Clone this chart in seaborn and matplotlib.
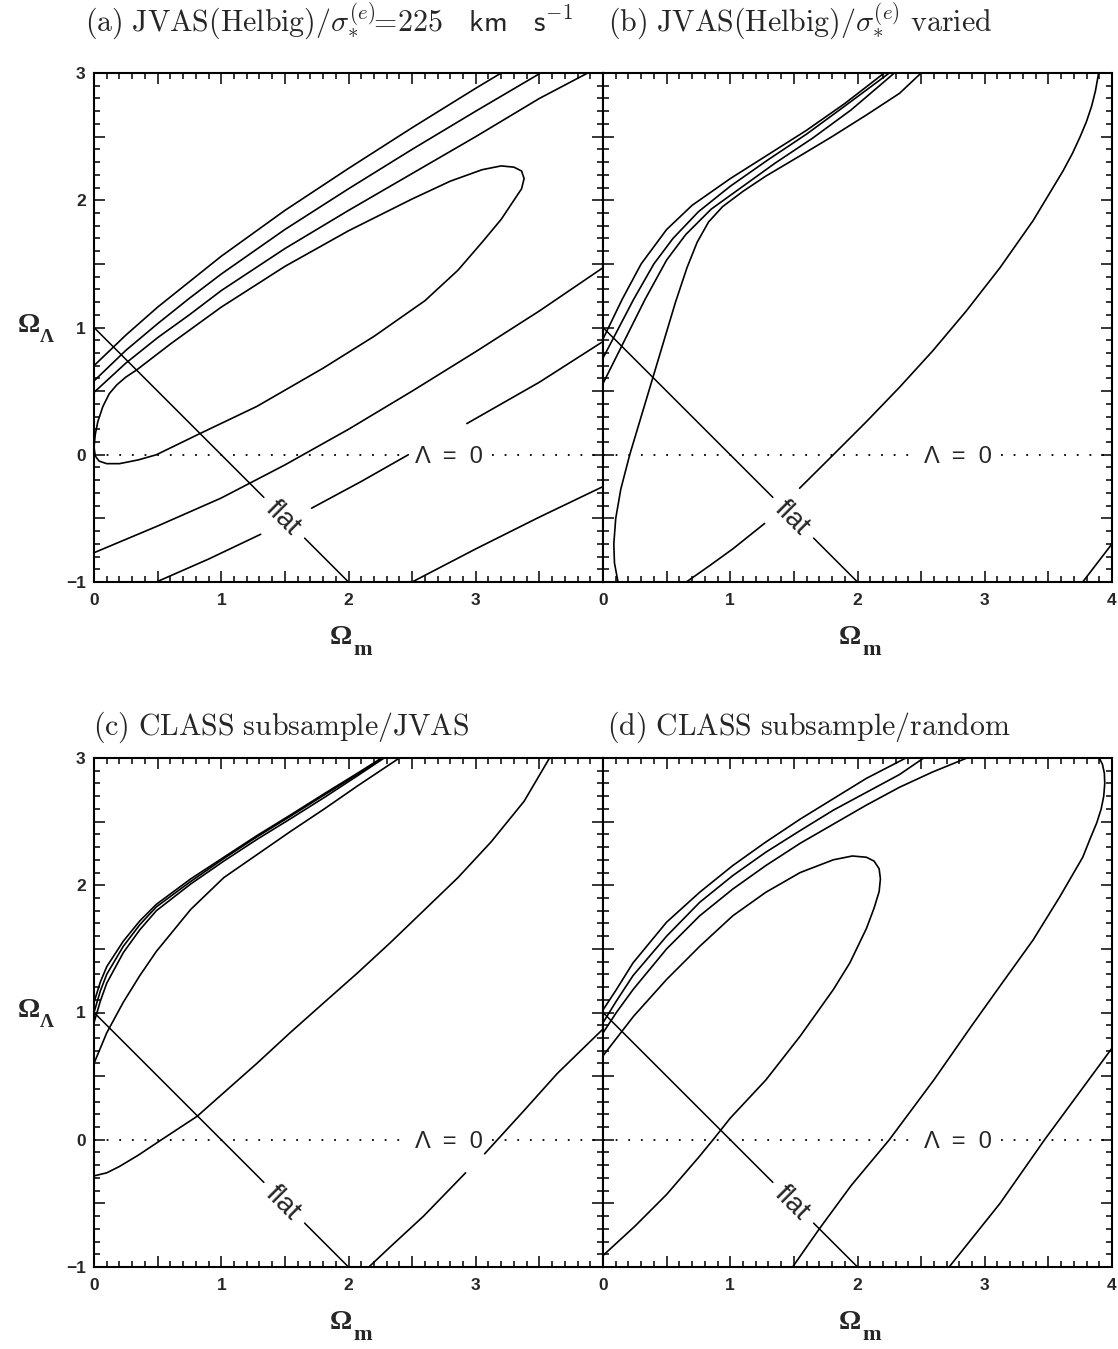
import numpy as np
import pandas as pd
import matplotlib
matplotlib.use("Agg")
import matplotlib.pyplot as plt
from matplotlib.ticker import MultipleLocator, FuncFormatter
import seaborn as sns

# ---------------- data (Omega_m, Omega_Lambda) ----------------
# panel (a)
A_C1 = [(0.00, 0.70), (0.25, 0.94), (0.50, 1.16), (0.75, 1.36), (1.00, 1.56), (1.50, 1.92),
        (2.00, 2.25), (2.50, 2.57), (3.00, 2.88), (3.20, 3.00)]
A_C2 = [(0.00, 0.58), (0.25, 0.82), (0.50, 1.03), (0.75, 1.23), (1.00, 1.42), (1.50, 1.77),
        (2.00, 2.09), (2.50, 2.40), (3.00, 2.70), (3.51, 3.00)]
A_C3 = [(0.00, 0.49), (0.25, 0.72), (0.50, 0.92), (0.75, 1.10), (1.00, 1.29), (1.50, 1.62),
        (2.00, 1.92), (2.50, 2.21), (3.00, 2.50), (3.50, 2.80), (3.88, 3.00)]
A_ELL = [(0.00, 0.06), (0.01, 0.16), (0.03, 0.26), (0.07, 0.38), (0.12, 0.48), (0.18, 0.55),
         (0.25, 0.61), (0.34, 0.67), (0.60, 0.87), (1.00, 1.16), (1.50, 1.48), (2.00, 1.76),
         (2.50, 2.01), (2.80, 2.15), (3.05, 2.24), (3.20, 2.27), (3.30, 2.26), (3.36, 2.23),
         (3.38, 2.17), (3.36, 2.09), (3.30, 2.00), (3.20, 1.85), (3.05, 1.67), (2.86, 1.45),
         (2.60, 1.21), (2.20, 0.93), (1.80, 0.68), (1.28, 0.38), (0.84, 0.17), (0.49, 0.00),
         (0.35, -0.04), (0.20, -0.07), (0.10, -0.07), (0.04, -0.05), (0.01, -0.01), (0.00, 0.06)]
A_C5 = [(0.00, -0.77), (0.50, -0.56), (1.00, -0.34), (1.50, -0.08), (2.00, 0.20), (2.50, 0.50),
        (3.00, 0.81), (3.50, 1.13), (4.00, 1.47)]
A_C6_1 = [(0.49, -1.00), (0.90, -0.82), (1.31, -0.625)]
A_C6_2 = [(1.71, -0.42), (2.10, -0.21), (2.47, 0.00)]
A_C6_3 = [(2.93, 0.245), (3.50, 0.57), (4.00, 0.89)]
A_C7 = [(2.50, -1.00), (3.00, -0.74), (3.50, -0.49), (4.00, -0.25)]

# panel (b)
B_C1 = [(0.00, 0.91), (0.15, 1.22), (0.30, 1.50), (0.50, 1.77), (0.70, 1.96), (1.00, 2.17),
        (1.30, 2.36), (1.60, 2.55), (1.90, 2.76), (2.21, 3.00)]
B_C2 = [(0.00, 0.76), (0.24, 1.22), (0.40, 1.50), (0.55, 1.70), (0.75, 1.91), (1.00, 2.11),
        (1.30, 2.32), (1.60, 2.52), (1.90, 2.74), (2.25, 3.00)]
B_C3 = [(0.00, 0.56), (0.33, 1.22), (0.50, 1.53), (0.65, 1.73), (0.85, 1.93), (1.10, 2.11),
        (1.35, 2.29), (1.65, 2.49), (1.95, 2.71), (2.29, 3.00)]
B_C4 = [(0.118, -1.00), (0.09, -0.85), (0.085, -0.70), (0.10, -0.50), (0.14, -0.27), (0.21, 0.00),
        (0.30, 0.30), (0.39, 0.60), (0.48, 0.90), (0.57, 1.20), (0.66, 1.47), (0.74, 1.67),
        (0.83, 1.83), (0.94, 1.95), (1.10, 2.07), (1.28, 2.19), (1.55, 2.35), (1.80, 2.50),
        (2.07, 2.67), (2.33, 2.84), (2.50, 3.00)]
B_C5_1 = [(3.895, 3.00), (3.87, 2.86), (3.84, 2.74), (3.80, 2.62), (3.75, 2.50), (3.69, 2.37),
          (3.615, 2.23), (3.38, 1.84), (3.12, 1.47), (2.855, 1.13), (2.59, 0.815), (2.33, 0.53),
          (2.07, 0.26), (1.81, 0.00), (1.545, -0.263)]
B_C5_2 = [(1.27, -0.54), (1.02, -0.74), (0.84, -0.87), (0.655, -1.00)]
B_C6 = [(3.77, -1.00), (4.00, -0.70)]

# panel (c)
C_C1 = [(0.00, 1.08), (0.05, 1.24), (0.10, 1.36), (0.23, 1.56), (0.36, 1.72), (0.49, 1.85),
        (0.76, 2.05), (1.02, 2.22), (1.28, 2.39), (1.54, 2.55), (1.81, 2.72), (2.07, 2.88),
        (2.26, 3.00)]
C_C2 = [(0.00, 1.00), (0.05, 1.17), (0.10, 1.30), (0.23, 1.52), (0.36, 1.69), (0.49, 1.83),
        (0.76, 2.03), (1.02, 2.21), (1.28, 2.38), (1.54, 2.54), (1.81, 2.71), (2.07, 2.87),
        (2.27, 3.00)]
C_C3 = [(0.00, 0.92), (0.05, 1.09), (0.10, 1.23), (0.23, 1.47), (0.36, 1.65), (0.49, 1.80),
        (0.76, 2.01), (1.02, 2.19), (1.28, 2.36), (1.54, 2.52), (1.81, 2.69), (2.07, 2.86),
        (2.28, 3.00)]
C_C4 = [(0.00, 0.60), (0.10, 0.84), (0.23, 1.08), (0.36, 1.29), (0.49, 1.48), (0.76, 1.81),
        (1.02, 2.06), (1.28, 2.24), (1.54, 2.42), (1.81, 2.60), (2.07, 2.78), (2.40, 3.00)]
C_C5 = [(0.00, -0.284), (0.10, -0.26), (0.20, -0.21), (0.35, -0.12), (0.53, 0.00), (0.81, 0.184),
        (1.02, 0.37), (1.28, 0.60), (1.54, 0.84), (1.81, 1.08), (2.07, 1.31), (2.33, 1.55),
        (2.59, 1.80), (2.86, 2.06), (3.12, 2.34), (3.38, 2.66), (3.58, 3.00)]
C_C6_1 = [(2.16, -1.00), (2.33, -0.84), (2.59, -0.60), (2.92, -0.26)]
C_C6_2 = [(3.07, -0.11), (3.38, 0.23), (3.64, 0.52), (4.00, 0.87)]

# panel (d)
D_C1 = [(0.00, 1.02), (0.105, 1.18), (0.236, 1.39), (0.50, 1.71), (0.76, 1.945), (1.02, 2.155),
        (1.28, 2.34), (1.55, 2.52), (1.81, 2.68), (2.07, 2.84), (2.38, 3.00)]
D_C2 = [(0.00, 0.92), (0.105, 1.09), (0.236, 1.29), (0.50, 1.60), (0.76, 1.866), (1.02, 2.076),
        (1.28, 2.26), (1.55, 2.43), (1.81, 2.59), (2.07, 2.73), (2.33, 2.87), (2.52, 3.00)]
D_C3 = [(0.00, 0.84), (0.105, 1.00), (0.236, 1.18), (0.50, 1.50), (0.76, 1.76), (1.02, 1.97),
        (1.28, 2.155), (1.55, 2.33), (1.81, 2.48), (2.07, 2.63), (2.33, 2.77), (2.59, 2.89),
        (2.86, 3.00)]
D_C4 = [(0.00, -0.91), (0.25, -0.68), (0.50, -0.43), (0.75, -0.14), (0.865, 0.00), (1.00, 0.17),
        (1.28, 0.47), (1.55, 0.815), (1.81, 1.18), (1.94, 1.39), (2.07, 1.66), (2.13, 1.82),
        (2.17, 1.95), (2.18, 2.05), (2.17, 2.13), (2.13, 2.19), (2.07, 2.22), (1.96, 2.23),
        (1.81, 2.20), (1.55, 2.10), (1.28, 1.945), (1.02, 1.76), (0.76, 1.52), (0.50, 1.26),
        (0.24, 0.97), (0.00, 0.66)]
D_C5 = [(1.49, -1.00), (1.70, -0.70), (1.95, -0.36), (2.25, 0.00), (2.60, 0.47), (2.90, 0.90),
        (3.15, 1.25), (3.38, 1.57), (3.59, 1.91), (3.77, 2.22), (3.83, 2.37), (3.88, 2.49),
        (3.915, 2.60), (3.935, 2.70), (3.943, 2.80), (3.94, 2.88), (3.925, 2.95), (3.90, 3.00)]
D_C6 = [(2.72, -1.00), (3.12, -0.50), (3.47, 0.00), (3.75, 0.38), (4.00, 0.72)]

# reference lines (flat universe, Lambda = 0) with the gaps left for their labels
FLAT_SEGS = [[(0.00, 1.00), (1.335, -0.335)], [(1.655, -0.655), (2.00, -1.00)]]
LAMBDA0_SEGS = [[(0.00, 0.00), (2.43, 0.00)], [(3.13, 0.00), (4.00, 0.00)]]

TITLES = [r'$\mathrm{(a)\ JVAS(Helbig)/}\sigma_{*}^{(e)}\!\!\mathsf{=\!225\ \ \ km\ \ \ s}^{-1}$',
          r'$\mathrm{(b)\ JVAS(Helbig)/}\sigma_{*}^{(e)}\ \mathrm{varied}$',
          r'$\mathrm{(c)\ CLASS\ subsample/JVAS}$',
          r'$\mathrm{(d)\ CLASS\ subsample/random}$']

PANEL_CURVES = [
    [A_C1, A_C2, A_C3, A_ELL, A_C5, A_C6_1, A_C6_2, A_C6_3, A_C7],
    [B_C1, B_C2, B_C3, B_C4, B_C5_1, B_C5_2, B_C6],
    [C_C1, C_C2, C_C3, C_C4, C_C5, C_C6_1, C_C6_2],
    [D_C1, D_C2, D_C3, D_C4, D_C5, D_C6],
]


def segs_to_df(segs):
    rows = []
    for sid, seg in enumerate(segs):
        for x, y in seg:
            rows.append((sid, x, y))
    return pd.DataFrame(rows, columns=["seg", "x", "y"])


sns.set_style("ticks")
plt.rcParams['font.family'] = ['Liberation Sans', 'DejaVu Sans']
plt.rcParams['axes.unicode_minus'] = True

W, H = 1118, 1349
fig = plt.figure(figsize=(W / 100, H / 100), dpi=100)
fig.patch.set_facecolor("white")


def rect(left_px, top_px, size=509):
    return [left_px / W, 1 - (top_px + size) / H, size / W, size / H]


positions = [(94, 73), (603, 73), (94, 758), (603, 758)]
title_pos = [(85, 31), (608, 31), (93, 735), (607, 735)]


def int_fmt(show_last):
    def f(v, p):
        r = round(v)
        if abs(v - r) > 1e-6:
            return ""
        if not show_last and r == 4:
            return ""
        return str(int(r)).replace("-", "\u2212")
    return FuncFormatter(f)


OMEGA_FONT = dict(family="Liberation Serif", weight="bold", size=20)
SUB_FONT = dict(family="Liberation Serif", weight="bold", size=16)

for i, (lp, tp) in enumerate(positions):
    ax = fig.add_axes(rect(lp, tp))
    ax.set_xlim(0, 4)
    ax.set_ylim(-1, 3)
    left_col = (i % 2 == 0)

    # contours
    df = segs_to_df(PANEL_CURVES[i])
    sns.lineplot(data=df, x="x", y="y", units="seg", estimator=None, sort=False,
                 color="black", linewidth=1.2, ax=ax, legend=False)
    # flat line
    sns.lineplot(data=segs_to_df(FLAT_SEGS), x="x", y="y", units="seg", estimator=None,
                 sort=False, color="black", linewidth=1.1, ax=ax, legend=False)
    # Lambda = 0 dotted line
    sns.lineplot(data=segs_to_df(LAMBDA0_SEGS), x="x", y="y", units="seg", estimator=None,
                 sort=False, color="black", linewidth=1.3, linestyle=(0, (1, 6.0)),
                 ax=ax, legend=False)

    ax.text(2.79, -0.063, "\u039b  =  0", fontsize=17, ha="center", va="baseline")
    ax.text(1.485, -0.50, "flat", fontsize=20, ha="center", va="center",
            rotation=-45, rotation_mode="anchor")

    # axes styling
    for s in ax.spines.values():
        s.set_linewidth(1.5)
        s.set_color("black")
    ax.xaxis.set_major_locator(MultipleLocator(0.5))
    ax.yaxis.set_major_locator(MultipleLocator(0.5))
    ax.xaxis.set_minor_locator(MultipleLocator(0.1))
    ax.yaxis.set_minor_locator(MultipleLocator(0.1))
    ax.xaxis.set_major_formatter(int_fmt(show_last=not left_col))
    ax.yaxis.set_major_formatter(int_fmt(show_last=True))
    ax.tick_params(which="both", direction="in", top=True, right=True, bottom=True, left=True,
                   width=1.1, color="black")
    ax.tick_params(which="major", length=8)
    ax.tick_params(which="minor", length=4)
    ax.tick_params(axis="x", which="major", pad=8, labelsize=12.5)
    ax.tick_params(axis="y", which="major", pad=6, labelsize=12.5, labelleft=left_col)
    for lab in ax.get_xticklabels() + ax.get_yticklabels():
        lab.set_fontweight("bold")

    # axis labels: bold Omega with a large lowered subscript
    ax.set_xlabel("")
    ax.set_ylabel("")
    ax.text(0.486, -0.110, "\u03a9", transform=ax.transAxes, ha="center", va="center",
            fontdict=OMEGA_FONT)
    ax.text(0.527, -0.134, "m", transform=ax.transAxes, ha="center", va="center",
            fontdict=SUB_FONT)
    if left_col:
        ax.text(-0.128, 0.504, "\u03a9", transform=ax.transAxes, ha="center", va="center",
                fontdict=OMEGA_FONT)
        ax.text(-0.092, 0.480, "\u039b", transform=ax.transAxes, ha="center", va="center",
                fontdict=dict(family="Liberation Serif", weight="bold", size=14))

    tx, ty = title_pos[i]
    fig.text(tx / W, 1 - ty / H, TITLES[i], fontsize=21.5, math_fontfamily='cm',
             ha="left", va="baseline")

fig.savefig("out.png", dpi=100, facecolor="white")
